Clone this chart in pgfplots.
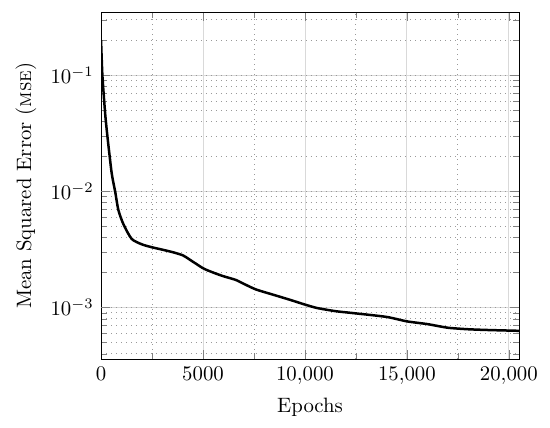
\documentclass[border=0pt]{standalone}
\usepackage{pgfplots}
\pgfplotsset{compat=1.18}
\begin{document}
\begin{tikzpicture}
\begin{axis}[
  name=ax,
  scale only axis,
  width=201pt, height=167pt,
  ymode=log,
  xmin=0, xmax=20500,
  ymin=3.58e-4, ymax=0.35,
  xtick={0,5000,10000,15000,20000},
  minor x tick num=1,
  scaled x ticks=false,
  /pgf/number format/min exponent for 1000 sep=4,
  grid=both,
  major grid style={gray!30, line width=0.4pt},
  minor grid style={dotted, gray!80, line width=0.4pt},
  extra y ticks={0.1,0.01,0.001},
  extra y tick labels={},
  extra y tick style={grid=major, major grid style={dotted, gray!80, line width=0.4pt}},
  xlabel={Epochs},
  ylabel={Mean Squared Error (\textsc{mse})},
]
\addplot[black, line width=1.2pt, smooth, tension=0.4] coordinates {
(0,0.20) (65,0.1) (200,0.047) (310,0.030) (520,0.0144) (690,0.0100) (850,0.0069)
(1100,0.0052) (1500,0.0039) (2000,0.0035) (2500,0.0033) (3000,0.00315) (3500,0.0030)
(4000,0.00282) (4300,0.00262) (5000,0.00218) (5500,0.00200) (6000,0.00186)
(6600,0.00173) (7000,0.00160) (7600,0.00143) (8500,0.00128) (9300,0.00116)
(10000,0.00106) (10600,0.00099) (11500,0.00093) (12500,0.00089) (14000,0.00083)
(15000,0.00076) (16000,0.00072) (17000,0.00067) (18000,0.00065) (19000,0.00064)
(20500,0.00063)
};
\end{axis}
\pgfresetboundingbox
\path ([shift={(-48.6pt,-32.7pt)}]ax.south west) rectangle ([shift={(14.9pt,5.8pt)}]ax.north east);
\end{tikzpicture}
\end{document}
